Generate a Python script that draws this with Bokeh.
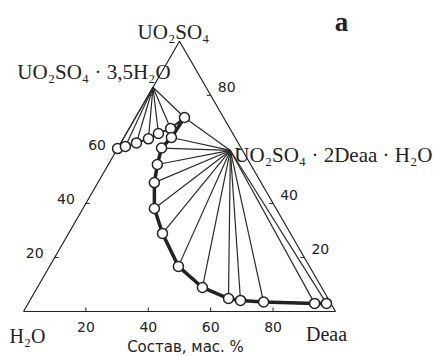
import numpy as np
from bokeh.plotting import figure
from bokeh.models import Range1d, Label
from bokeh.embed import file_html
from bokeh.resources import INLINE

# ---- data (mass %) ----
# liquid phase along the solubility curve
liq_uo2so4 = [60.3, 61.1, 62.4, 63.9, 65.9, 67.7, 71.8, 64.4, 60.5, 54.4,
              47.7, 38.1, 28.9, 16.7, 8.9, 4.8, 4.1, 3.5, 3.0, 3.0]
liq_deaa = [0.0, 2.1, 5.0, 8.1, 10.3, 13.3, 15.7, 15.2, 14.0, 15.7,
            18.1, 22.9, 30.1, 41.3, 52.9, 63.3, 67.5, 75.2, 91.8, 95.6]
# solid phases
hyd_uo2so4, hyd_deaa = 83.0, 0.0      # UO2SO4*3,5H2O
cpx_uo2so4, cpx_deaa = 59.6, 36.5     # UO2SO4*2Deaa*H2O
hyd_branch = list(range(0, 7))        # liquids in equilibrium with hydrate
cpx_branch = list(range(6, 20))       # liquids in equilibrium with complex
tick_vals = [20, 40, 60, 80]
left_labels = [20, 40, 60]
right_labels = [20, 40, 80]
bottom_labels = [20, 40, 60, 80]

S = np.sqrt(3) / 2
W, H = 433, 356


def tern(a, b):
    a = np.asarray(a, dtype=float) / 100.0
    b = np.asarray(b, dtype=float) / 100.0
    return b + a / 2, a * S


p = figure(width=W, height=H, output_backend="svg", toolbar_location=None,
           x_range=Range1d(-23 / 312, (W - 23) / 312),
           y_range=Range1d((311 - H) / 312, 311 / 312),
           min_border=0)
p.axis.visible = False
p.grid.visible = False
p.outline_line_color = None
p.background_fill_color = "white"

SERIF = "Liberation Serif"
SANS = "DejaVu Sans"
INK = "#222222"

# triangle
tx, ty = tern([0, 0, 100, 0], [0, 100, 0, 0])
p.line(tx, ty, line_color=INK, line_width=1.2)

# ticks
L = 4 / 312
for v in tick_vals:
    x, y = tern(v, 0)
    p.segment(x0=[float(x)], y0=[float(y)], x1=[float(x) + L], y1=[float(y)], line_color=INK, line_width=1)
    x, y = tern(v, 100 - v)
    p.segment(x0=[float(x)], y0=[float(y)], x1=[float(x) - L], y1=[float(y)], line_color=INK, line_width=1)
    x, y = tern(0, v)
    p.segment(x0=[float(x)], y0=[float(y)], x1=[float(x)], y1=[float(y) + L], line_color=INK, line_width=1)

# tie lines
lx, ly = tern(liq_uo2so4, liq_deaa)
hx, hy = tern(hyd_uo2so4, hyd_deaa)
cx, cy = tern(cpx_uo2so4, cpx_deaa)
xs, ys = [], []
for i in hyd_branch:
    xs.append([float(hx), float(lx[i])]); ys.append([float(hy), float(ly[i])])
for i in cpx_branch:
    xs.append([float(cx), float(lx[i])]); ys.append([float(cy), float(ly[i])])
p.multi_line(xs, ys, line_color="#2a2a2a", line_width=1.2)

# solubility curve
p.line(lx[hyd_branch], ly[hyd_branch], line_color=INK, line_width=2)
p.line(lx[cpx_branch], ly[cpx_branch], line_color=INK, line_width=3.5)
p.scatter(lx, ly, size=10, fill_color="white", line_color=INK, line_width=1.5)

# tick labels
for v in left_labels:
    x, y = tern(v, 0)
    p.add_layout(Label(x=float(x), y=float(y), x_offset=-20, y_offset=4, text=str(v),
                       text_font=SANS, text_font_size="14px", text_color=INK,
                       text_align="center", text_baseline="middle"))
for v in right_labels:
    x, y = tern(v, 100 - v)
    p.add_layout(Label(x=float(x), y=float(y), x_offset=16, y_offset=8, text=str(v),
                       text_font=SANS, text_font_size="14px", text_color=INK,
                       text_align="center", text_baseline="middle"))
for v in bottom_labels:
    x, y = tern(0, v)
    p.add_layout(Label(x=float(x), y=float(y), x_offset=0, y_offset=-15, text=str(v),
                       text_font=SANS, text_font_size="14px", text_color=INK,
                       text_align="center", text_baseline="middle"))


# component / phase labels
def lab(a, b, dx, dy, text, size="21px", align="center", style="normal"):
    x, y = tern(a, b)
    p.add_layout(Label(x=float(x), y=float(y), x_offset=dx, y_offset=dy, text=text,
                       text_font=SERIF, text_font_size=size, text_color=INK,
                       text_align=align, text_baseline="alphabetic", text_font_style=style))


lab(100, 0, -6, 9, "UO₂SO₄")
lab(0, 0, 4, -24, "H₂O", size="20px")
lab(0, 100, -9, -22, "Deaa", size="20px")
lab(hyd_uo2so4, hyd_deaa, -59, 15, "UO₂SO₄ · 3,5H₂O")
lab(cpx_uo2so4, cpx_deaa, 4, -5, "UO₂SO₄ · 2Deaa · H₂O", align="left")

p.add_layout(Label(x=341, y=H - 21, x_units="screen", y_units="screen", text="а",
                   text_font=SERIF, text_font_size="27px", text_font_style="bold",
                   text_color=INK, text_align="center", text_baseline="middle"))
p.add_layout(Label(x=185, y=H - 346, x_units="screen", y_units="screen", text="Состав, мас. %",
                   text_font=SANS, text_font_size="15px", text_color=INK,
                   text_align="center", text_baseline="middle"))

open("out.html", "w").write(file_html(p, INLINE))
